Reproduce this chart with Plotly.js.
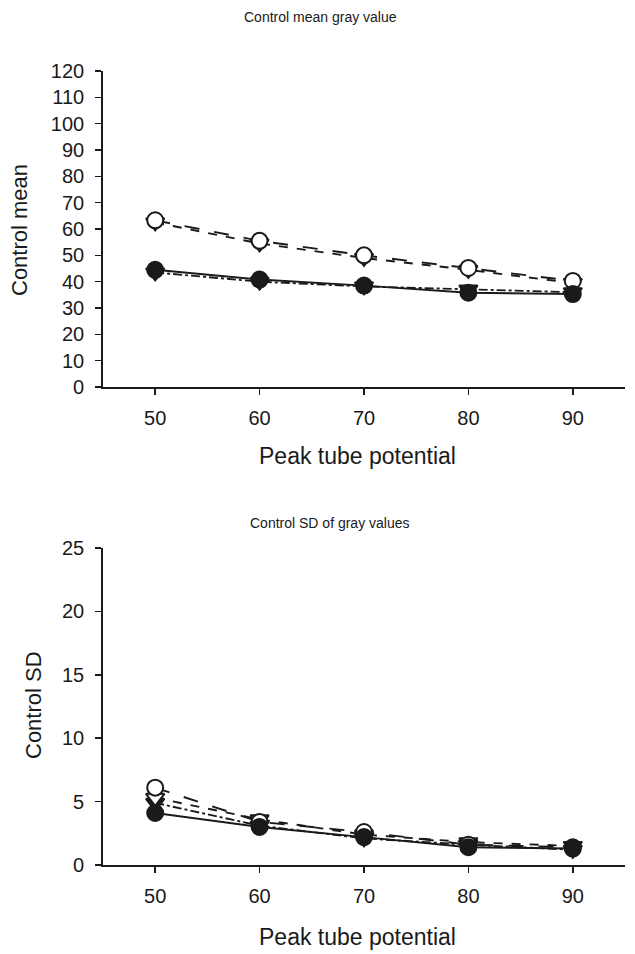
<!DOCTYPE html>
<html>
<head>
<meta charset="utf-8">
<script src="https://cdn.plot.ly/plotly-3.0.1.min.js"></script>
<style>html,body{margin:0;padding:0;background:#fff;}#chart{width:635px;height:954px;}</style>
</head>
<body>
<div id="chart"></div>
<script>
const kvp = [50, 60, 70, 80, 90];
const seriesNames = ["Filled circle", "Open circle", "Filled triangle", "Open triangle"];
// Top panel: control mean gray value
const meanFilledCircle = [44.5, 40.8, 38.5, 35.8, 35.3];
const meanOpenCircle = [63.3, 55.5, 50.0, 45.2, 40.3];
const meanFilledTriangle = [43.5, 40.0, 38.2, 37.0, 36.0];
const meanOpenTriangle = [62.5, 54.5, 49.0, 44.5, 39.5];
// Bottom panel: control SD of gray values
const sdFilledCircle = [4.1, 3.0, 2.2, 1.4, 1.3];
const sdOpenCircle = [6.1, 3.4, 2.6, 1.6, 1.4];
const sdFilledTriangle = [4.9, 3.1, 2.1, 1.6, 1.2];
const sdOpenTriangle = [5.3, 3.6, 2.4, 1.8, 1.5];

const xTicks = [50, 60, 70, 80, 90];
const meanTicks = [0,10,20,30,40,50,60,70,80,90,100,110,120];
const sdTicks = [0,5,10,15,20,25];

const styles = [
  {symbol: "triangle-down", fill: "#1a1a1a", dash: "dashdot"},
  {symbol: "triangle-down", fill: "#ffffff", dash: "dash"},
  {symbol: "circle", fill: "#ffffff", dash: "longdash"},
  {symbol: "circle", fill: "#1a1a1a", dash: "solid"}
];

function mk(y, st, xa, ya) {
  return {
    x: kvp, y: y, xaxis: xa, yaxis: ya, mode: "lines+markers", type: "scatter",
    cliponaxis: false, showlegend: false,
    line: {color: "#1a1a1a", width: 1.9, dash: st.dash},
    marker: {symbol: st.symbol, size: 16, color: st.fill, line: {color: "#1a1a1a", width: 2}}
  };
}

const data = [
  mk(meanFilledTriangle, styles[0], "x", "y"),
  mk(meanOpenTriangle, styles[1], "x", "y"),
  mk(meanOpenCircle, styles[2], "x", "y"),
  mk(meanFilledCircle, styles[3], "x", "y"),
  mk(sdFilledTriangle, styles[0], "x2", "y2"),
  mk(sdOpenTriangle, styles[1], "x2", "y2"),
  mk(sdOpenCircle, styles[2], "x2", "y2"),
  mk(sdFilledCircle, styles[3], "x2", "y2")
];

const W = 635, H = 954;
const axFont = {family: "Liberation Sans, Arial, sans-serif", size: 20, color: "#1a1a1a"};
function xax(anchor) {
  return {
    domain: [103/W, 625/W], range: [45, 95], anchor: anchor,
    tickmode: "array", tickvals: xTicks, ticks: "outside", ticklen: 6, tickwidth: 1.5, tickcolor: "#1a1a1a",
    ticklabelstandoff: 6,
    showline: true, linecolor: "#1a1a1a", linewidth: 1.8, showgrid: false, zeroline: false,
    tickfont: axFont, fixedrange: true
  };
}
function yax(anchor, dom, rng, tv) {
  return {
    domain: dom, range: rng, anchor: anchor,
    tickmode: "array", tickvals: tv, ticks: "outside", ticklen: 6, tickwidth: 1.5, tickcolor: "#1a1a1a",
    ticklabelstandoff: 7,
    showline: true, linecolor: "#1a1a1a", linewidth: 1.8, showgrid: false, zeroline: false,
    tickfont: axFont, fixedrange: true
  };
}

const titleFont = {family: "Liberation Sans, Arial, sans-serif", size: 14, color: "#1a1a1a"};
const labFont = {family: "Liberation Sans, Arial, sans-serif", size: 22, color: "#1a1a1a"};
const xlabFont = {family: "Liberation Sans, Arial, sans-serif", size: 23, color: "#1a1a1a"};

const layout = {
  width: W, height: H,
  margin: {l: 0, r: 0, t: 0, b: 0},
  paper_bgcolor: "#fff", plot_bgcolor: "#fff",
  showlegend: false,
  xaxis: xax("y"),
  yaxis: yax("x", [1-387/H, 1-71/H], [0, 120], meanTicks),
  xaxis2: xax("y2"),
  yaxis2: yax("x2", [1-865/H, 1-548/H], [0, 25], sdTicks),
  annotations: [
    {text: "Control mean gray value", x: 320/W, y: 1-17/H, xref: "paper", yref: "paper", showarrow: false, font: titleFont, xanchor: "center", yanchor: "middle"},
    {text: "Control SD of gray values", x: 330/W, y: 1-523/H, xref: "paper", yref: "paper", showarrow: false, font: titleFont, xanchor: "center", yanchor: "middle"},
    {text: "Control mean", x: 20/W, y: 1-230/H, xref: "paper", yref: "paper", showarrow: false, font: labFont, textangle: -90, xanchor: "center", yanchor: "middle"},
    {text: "Control SD", x: 33/W, y: 1-705/H, xref: "paper", yref: "paper", showarrow: false, font: labFont, textangle: -90, xanchor: "center", yanchor: "middle"},
    {text: "Peak tube potential", x: 357/W, y: 1-456/H, xref: "paper", yref: "paper", showarrow: false, font: xlabFont, xanchor: "center", yanchor: "middle"},
    {text: "Peak tube potential", x: 357/W, y: 1-937/H, xref: "paper", yref: "paper", showarrow: false, font: xlabFont, xanchor: "center", yanchor: "middle"}
  ]
};

Plotly.newPlot("chart", data, layout, {staticPlot: true, displayModeBar: false});
</script>
</body>
</html>
